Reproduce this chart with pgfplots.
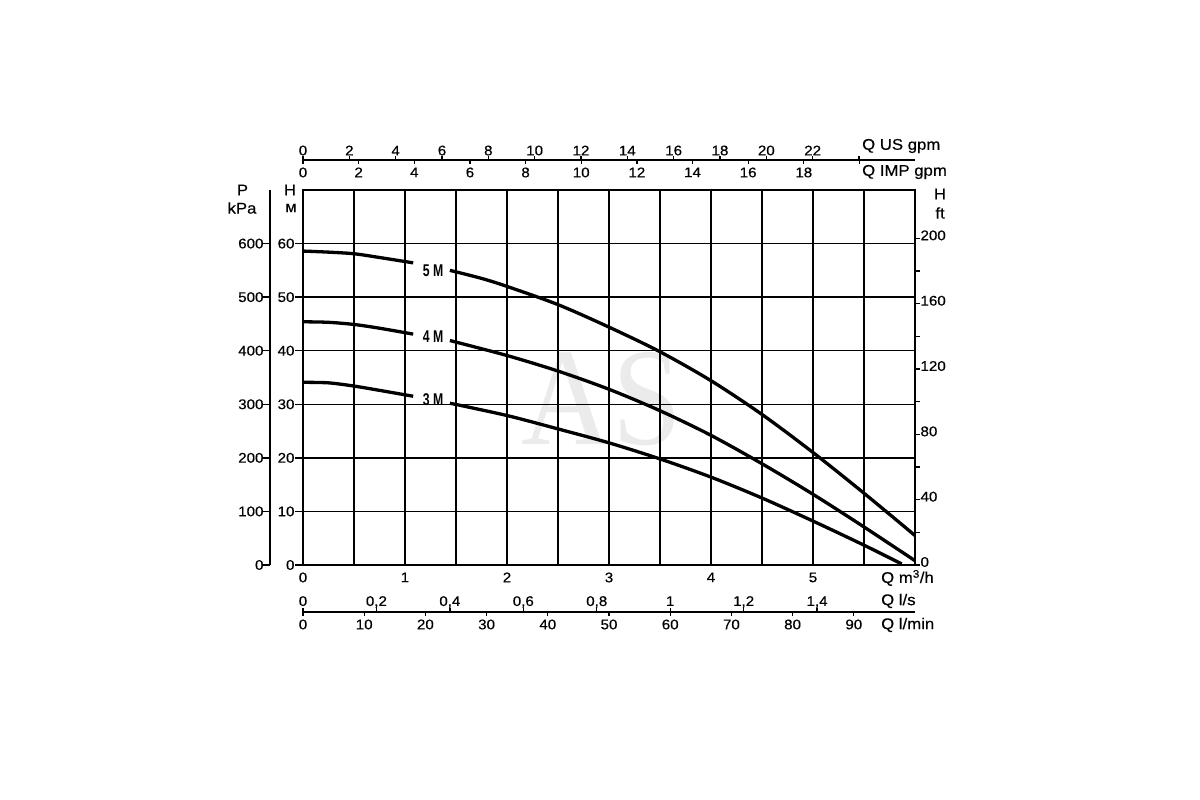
\documentclass[border=0pt]{standalone}
\usepackage{pgfplots}
\pgfplotsset{compat=1.18}
\usepackage{pgfplotstable}
\usepackage{fontspec}
\setmainfont{Liberation Sans}[FakeStretch=1.08, FakeBold=0.4]
\newfontfamily\condfont{Liberation Sans}[FakeStretch=0.72]
\newfontfamily\wmfont{Liberation Serif}[FakeStretch=0.9]

% 5M curve (Q in m3/h, H in m), split around its label
\pgfplotstableread{
Q H
0 58.6
0.25 58.4
0.5 58.1
0.75 57.4
1.08 56.4
}\fiveA
\pgfplotstableread{
Q H
1.44 55.0
1.75 53.5
2.0 52.0
2.5 48.6
3.0 44.4
3.5 39.8
4.0 34.4
4.5 28.1
5.0 21.0
5.5 13.4
6.0 5.5
}\fiveB
% 4M
\pgfplotstableread{
Q H
0 45.4
0.25 45.3
0.5 44.9
0.75 44.2
1.08 43.1
}\fourA
\pgfplotstableread{
Q H
1.44 41.9
2.0 39.1
2.5 36.2
3.0 32.8
3.5 28.8
4.0 24.2
4.5 18.9
5.0 13.2
5.5 7.1
6.0 0.8
}\fourB
% 3M
\pgfplotstableread{
Q H
0 34.1
0.25 34.0
0.5 33.4
0.75 32.6
1.08 31.5
}\threeA
\pgfplotstableread{
Q H
1.44 30.2
2.0 27.9
2.5 25.4
3.0 22.8
3.5 19.8
4.0 16.4
4.5 12.5
5.0 8.2
5.5 3.7
5.87 0.2
}\threeB

\pgfplotsset{
  base/.style={
    scale only axis,
    width=612pt,
    /pgf/number format/assume math mode=true,
    tick label style={font=\fontsize{14}{16}\selectfont, text=black},
    axis line style={black, line width=1.5pt},
    tick style={black, line width=1.3pt},
    tick align=outside,
  },
  curve/.style={black, line width=3.3pt, smooth},
}

\begin{document}
\begin{tikzpicture}[x=1pt,y=1pt]
\path (0,0) rectangle (1200,800);

% watermark
\node[text=black!8, font={\fontsize{139}{139}\wmfont}] at (601.7,401) {AS};

% main axis: H (m) vs Q (m3/h)
\begin{axis}[base,
  at={(303pt,235pt)}, anchor=south west, height=375pt,
  xmin=0, xmax=6, ymin=0, ymax=70,
  xtick={0,1,2,3,4,5}, minor xtick={0.5,1.5,2.5,3.5,4.5,5.5},
  ytick={0,10,20,30,40,50,60},
  xtick pos=bottom, ytick pos=left,
  grid=both,
  major grid style={black, line width=1.5pt},
  minor grid style={black, line width=1.5pt},
  major tick length=8pt, minor tick length=0pt,
  xtick style={draw=none},
  minor x tick style={draw=none},
  xticklabel style={yshift=4pt},
  yticklabel style={xshift=3pt},
]
\addplot[curve] table[x=Q,y=H] {\fiveA};
\addplot[curve] table[x=Q,y=H] {\fiveB};
\addplot[curve] table[x=Q,y=H] {\fourA};
\addplot[curve] table[x=Q,y=H] {\fourB};
\addplot[curve] table[x=Q,y=H] {\threeA};
\addplot[curve] table[x=Q,y=H] {\threeB};
\node[font={\fontsize{17}{18}\condfont\bfseries}] at (axis cs:1.275,54.97) {5 M};
\node[font={\fontsize{17}{18}\condfont\bfseries}] at (axis cs:1.275,42.65) {4 M};
\node[font={\fontsize{17}{18}\condfont\bfseries}] at (axis cs:1.275,30.8) {3 M};
\end{axis}

% right axis: H (ft)
\begin{axis}[base,
  at={(303pt,235pt)}, anchor=south west, height=375pt,
  xmin=0, xmax=6, ymin=0, ymax=229.659,
  hide x axis, axis y line*=right,
  ytick={0,40,80,120,160,200}, minor ytick={20,60,100,140,180},
  major tick length=5pt, minor tick length=5pt,
  yticklabel style={xshift=-3pt, yshift=3pt},
]
\end{axis}

% left axis: P (kPa)
\begin{axis}[base,
  at={(270pt,235pt)}, anchor=south west, height=375pt,
  xmin=0, xmax=1, ymin=0, ymax=700,
  hide x axis, axis y line*=left,
  ytick={0,100,200,300,400,500,600},
  major tick length=7pt,
  yticklabel style={xshift=4pt},
]
\end{axis}

% top: US gpm
\begin{axis}[base,
  at={(303pt,640pt)}, anchor=north west, height=10pt,
  xmin=0, xmax=26.4174, ymin=0, ymax=1,
  hide y axis, axis x line*=top,
  xtick={0,2,4,6,8,10,12,14,16,18,20,22,24},
  xticklabels={0,2,4,6,8,10,12,14,16,18,20,22,{}},
  major tick length=4pt,
  xticklabel style={yshift=-3pt},
]
\end{axis}

% top: IMP gpm
\begin{axis}[base,
  at={(303pt,640pt)}, anchor=south west, height=10pt,
  xmin=0, xmax=21.9969, ymin=0, ymax=1,
  hide y axis, axis x line*=bottom,
  xtick={0,2,4,6,8,10,12,14,16,18,20},
  xticklabels={0,2,4,6,8,10,12,14,16,18,{}},
  major tick length=4pt,
]
\end{axis}

% bottom: l/s
\begin{axis}[base,
  at={(303pt,188pt)}, anchor=north west, height=10pt,
  xmin=0, xmax=1.666667, ymin=0, ymax=1,
  hide y axis, axis x line*=top,
  xtick={0,0.2,0.4,0.6,0.8,1,1.2,1.4},
  xticklabels={0,{0,2},{0,4},{0,6},{0,8},1,{1,2},{1,4}},
  major tick length=4pt,
  xticklabel style={yshift=-4pt, text height=10pt, text depth=2.5pt},
]
\end{axis}

% bottom: l/min
\begin{axis}[base,
  at={(303pt,188pt)}, anchor=south west, height=10pt,
  xmin=0, xmax=100, ymin=0, ymax=1,
  hide y axis, axis x line*=bottom,
  xtick={0,10,20,30,40,50,60,70,80,90},
  major tick length=4pt,
]
\end{axis}

% axis names
\begin{scope}[every node/.style={font=\fontsize{15.5}{17}\selectfont, inner sep=0pt}]
\node[anchor=west] at (862,654) {Q US gpm};
\node[anchor=west] at (862,628) {Q IMP gpm};
\node at (940,606) {H};
\node at (940,587) {ft};
\node at (242.5,610) {P};
\node at (242,592) {kPa};
\node at (290,610) {H};
\node at (291,592) {м};
\node[anchor=west] at (881,222) {Q m\textsuperscript{3}/h};
\node[anchor=west] at (881,199) {Q l/s};
\node[anchor=west] at (881,175) {Q l/min};
\end{scope}
\end{tikzpicture}
\end{document}
